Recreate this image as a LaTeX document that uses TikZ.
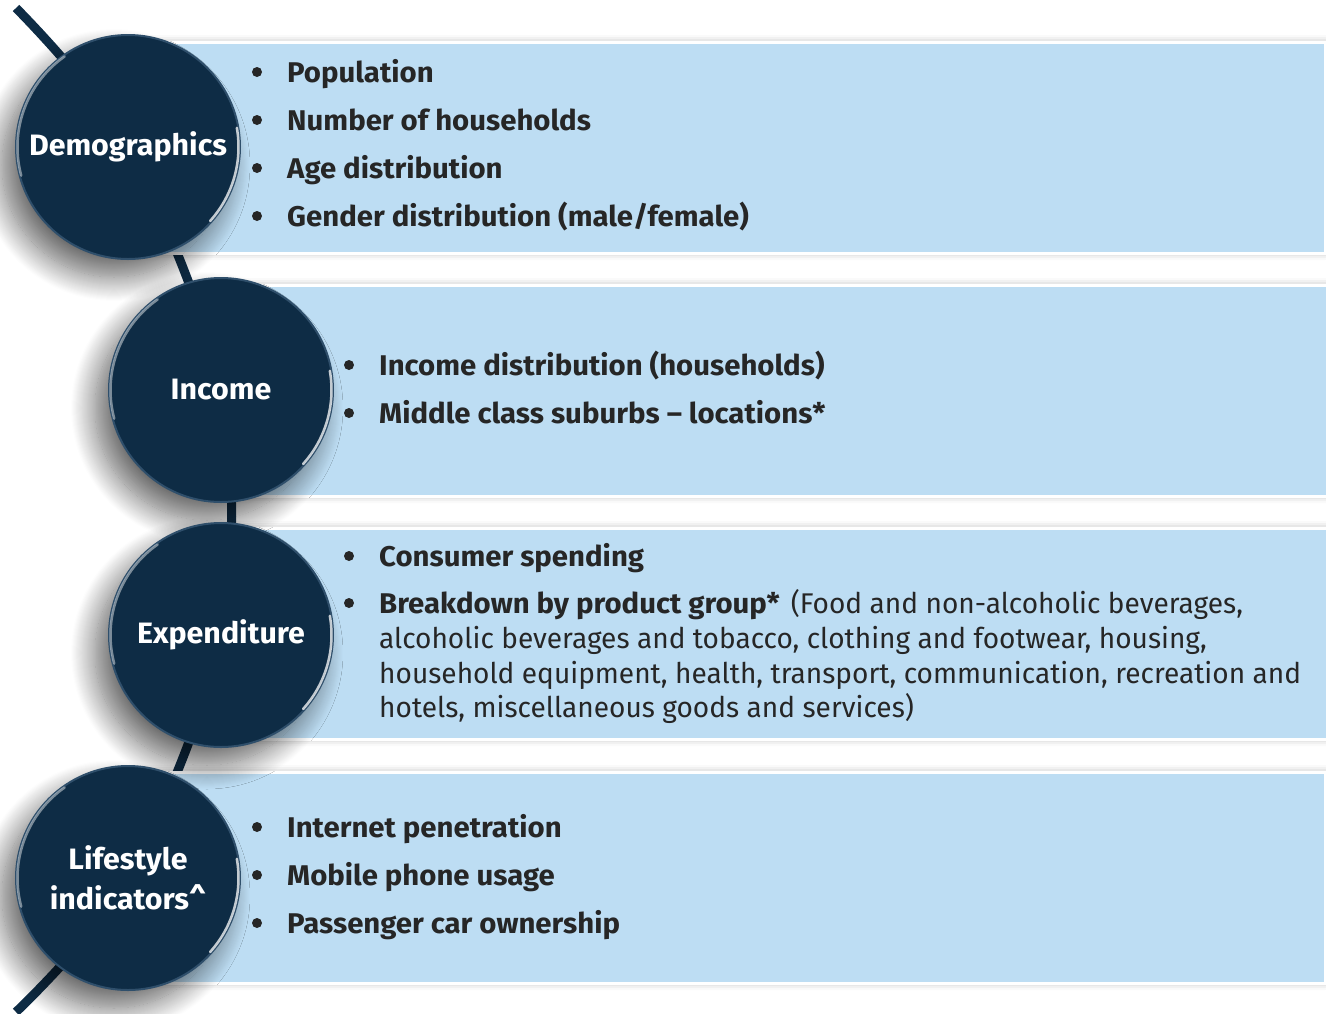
\documentclass[tikz,border=0pt]{standalone}
\usepackage{fontspec}
\setmainfont{Fira Sans}[UprightFeatures={FakeStretch=0.985},BoldFeatures={FakeStretch=1.03}]
\usepackage{xcolor}
\usepackage{tikz}
\usetikzlibrary{positioning,backgrounds,shadows.blur}
\definecolor{topicnavy}{HTML}{0E2C45}
\definecolor{rimnavy}{HTML}{2F4F6B}
\definecolor{bandblue}{HTML}{BDDDF3}
\definecolor{itemgray}{HTML}{262626}

\begin{document}
\begin{tikzpicture}[x=1pt,y=-1pt,
  band/.style={rectangle,anchor=north west,inner sep=0pt,fill=bandblue,draw=white,line width=3pt,
    minimum width=1195.5pt,minimum height=211pt,
    blur shadow={shadow xshift=0pt,shadow yshift=0pt,shadow blur radius=7pt,shadow opacity=30}},
  topic/.style={circle,minimum size=224pt,inner sep=0pt,fill=topicnavy,draw=rimnavy,line width=2pt,
    text=white,align=center,font=\bfseries\fontsize{29.5}{40}\selectfont,
    blur shadow={shadow xshift=-14pt,shadow yshift=-18pt,shadow blur radius=24pt,shadow blur steps=24,shadow opacity=60}},
  gloss/.style={white,line width=2.5pt,line cap=round,opacity=0.45},
  spine/.style={topicnavy,line width=9pt},
  item/.style={anchor=base west,inner sep=0pt,text=itemgray,font=\fontsize{28.5}{35}\selectfont},
  dot/.style={circle,fill=itemgray,inner sep=0pt,minimum size=10pt}]
  \useasboundingbox (0,0) rectangle (1326,1013);

  \node[topic] (demo)   at (128,147) {Demographics};
  \node[topic] (income) at (221,390) {Income};
  \node[topic] (expend) at (221,635) {Expenditure};
  \node[topic] (life)   at (128,878) {Lifestyle\\indicators\textasciicircum};
  \foreach \c in {demo,income,expend,life}{
    \draw[gloss,shift={(\c.center)}] plot[domain=125:195,samples=30] ({110.5*cos(\x)},{-110.5*sin(\x)});
    \draw[gloss,opacity=0.75,shift={(\c.center)}] plot[domain=-42:10,samples=30] ({110.5*cos(\x)},{-110.5*sin(\x)});
  }

  \begin{scope}[on background layer]
    \coordinate (spinetop) at (16,8);
    \coordinate (spinebot) at (16,1012);
    \draw[spine] plot[smooth,tension=0.55] coordinates {(spinetop) (demo.center) (income.center) (expend.center) (life.center) (spinebot)};
    \node[band] (demoband)   at (128,40.5) {};
    \node[band] (incomeband) at (221,283.5) {};
    \node[band] (expendband) at (221,526.5) {};
    \node[band] (lifeband)   at (128,770.5) {};
  \end{scope}

  \foreach \n/\x/\y/\t in {pop/287/82/Population, hh/287/130/Number of households,
      age/287/178/Age distribution, gender/287/226/{Gender distribution (male/female)},
      incdist/379/375/{Income distribution (households)}, suburbs/379/423/{Middle class suburbs – locations*},
      spend/379/566/Consumer spending, brk/379/613/{Breakdown by product group*\hspace{4pt} {\mdseries(Food and non-alcoholic beverages,}},
      inet/287/837/Internet penetration, mobile/287/885/Mobile phone usage, car/287/933/Passenger car ownership}{
    \node[item,font=\bfseries\fontsize{28.5}{35}\selectfont] (\n) at (\x,\y) {\t};
    \node[dot] at ([shift={(-30,-10)}]\n.base west) {};
  }
  \foreach \n/\y/\t in {brkb/648/{alcoholic beverages and tobacco, clothing and footwear, housing,},
      brkc/683/{household equipment, health, transport, communication, recreation and},
      brkd/717/{hotels, miscellaneous goods and services)}}{
    \node[item] (\n) at (379,\y) {\t};
  }
\end{tikzpicture}
\end{document}
